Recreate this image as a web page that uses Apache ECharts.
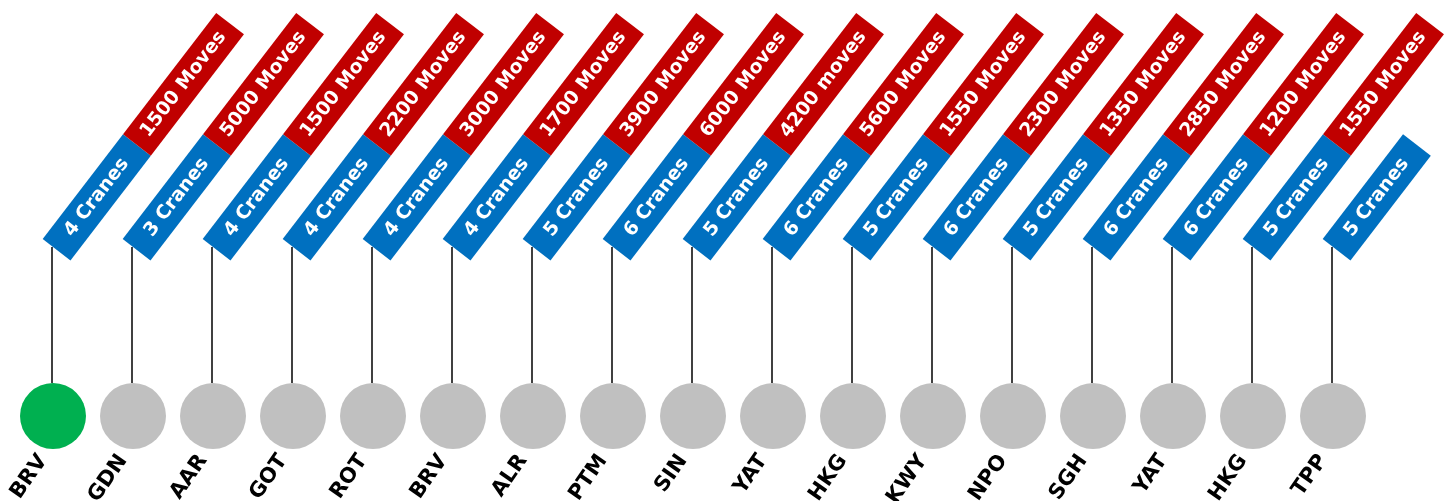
<!DOCTYPE html>
<html>
<head>
<meta charset="utf-8">
<script src="https://cdn.jsdelivr.net/npm/echarts@6/dist/echarts.min.js"></script>
<style>
  html, body { margin: 0; padding: 0; background: #fff; }
  #chart { width: 1449px; height: 501px; }
</style>
</head>
<body>
<div id="chart"></div>
<script>
const ports = ['BRV', 'GDN', 'AAR', 'GOT', 'ROT', 'BRV', 'ALR', 'PTM', 'SIN', 'YAT', 'HKG', 'KWY', 'NPO', 'SGH', 'YAT', 'HKG', 'TPP'];
const cranes = [4, 3, 4, 4, 4, 4, 5, 6, 5, 6, 5, 6, 5, 6, 6, 5, 5];
const moveLabels = [
  '1500 Moves', '5000 Moves', '1500 Moves', '2200 Moves', '3000 Moves', '1700 Moves',
  '3900 Moves', '6000 Moves', '4200 moves', '5600 Moves', '1550 Moves', '2300 Moves',
  '1350 Moves', '2850 Moves', '1200 Moves', '1550 Moves', null
];
const currentPort = 0; // highlighted (green) stop

// layout (y values are in the hidden axis, 0 = top)
const CIRCLE_Y = 416;
const CIRCLE_TOP = 383;
const ANCHOR_Y = 247;
const LABEL_Y = 457;
const ANGLE = 52.5 * Math.PI / 180;
const LABEL_ANGLE = 55 * Math.PI / 180;
const BLUE_LEN = 132;
const RED_LEN = 153;
const THICK = 35;
const FONT = 'bold 19px "DejaVu Sans"';

const chart = echarts.init(document.getElementById('chart'), null, { renderer: 'canvas' });

function renderTag(params, api) {
  const idx = api.value(0);
  const top = api.coord([idx, ANCHOR_Y]);
  const base = api.coord([idx, CIRCLE_TOP]);
  const lab = api.coord([idx, LABEL_Y]);
  const lx = Math.round(top[0]) - 1;
  const y0 = -13;
  const tag = [
    { type: 'rect', shape: { x: 0, y: y0, width: BLUE_LEN, height: THICK }, style: { fill: '#0070C0' } },
    {
      type: 'text',
      style: {
        text: cranes[idx] + ' Cranes', x: BLUE_LEN / 2, y: y0 + THICK / 2,
        align: 'center', verticalAlign: 'middle', fill: '#fff', font: FONT
      }
    }
  ];
  if (moveLabels[idx]) {
    tag.push(
      { type: 'rect', shape: { x: BLUE_LEN, y: y0, width: RED_LEN, height: THICK }, style: { fill: '#C00000' } },
      {
        type: 'text',
        style: {
          text: moveLabels[idx], x: BLUE_LEN + RED_LEN / 2, y: y0 + THICK / 2,
          align: 'center', verticalAlign: 'middle', fill: '#fff', font: FONT
        }
      }
    );
  }
  return {
    type: 'group',
    children: [
      {
        type: 'line',
        shape: { x1: lx, y1: top[1], x2: lx, y2: base[1] },
        style: { stroke: '#000', lineWidth: 1.5 }
      },
      { type: 'group', x: top[0], y: top[1], rotation: ANGLE, children: tag },
      {
        type: 'text',
        x: lab[0] - 10,
        y: lab[1],
        rotation: LABEL_ANGLE,
        style: {
          text: ports[idx], x: 0, y: 0, align: 'right', verticalAlign: 'middle',
          fill: '#000', font: 'bold 21px "DejaVu Sans"'
        }
      }
    ]
  };
}

chart.setOption({
  animation: false,
  backgroundColor: '#fff',
  grid: { left: 13, right: 76, top: 0, bottom: 0, containLabel: false, outerBoundsMode: 'none' },
  xAxis: {
    type: 'category',
    data: ports,
    show: false
  },
  yAxis: { type: 'value', min: 0, max: 501, inverse: true, show: false },
  series: [
    {
      type: 'custom',
      renderItem: renderTag,
      data: ports.map((p, i) => [i]),
      silent: true,
      clip: false,
      z: 2
    },
    {
      type: 'scatter',
      symbol: 'circle',
      symbolSize: 66,
      silent: true,
      z: 3,
      data: ports.map((p, i) => ({
        value: [i, CIRCLE_Y],
        itemStyle: { color: i === currentPort ? '#00B050' : '#C0C0C0', opacity: 1 }
      }))
    }
  ]
});
</script>
</body>
</html>
